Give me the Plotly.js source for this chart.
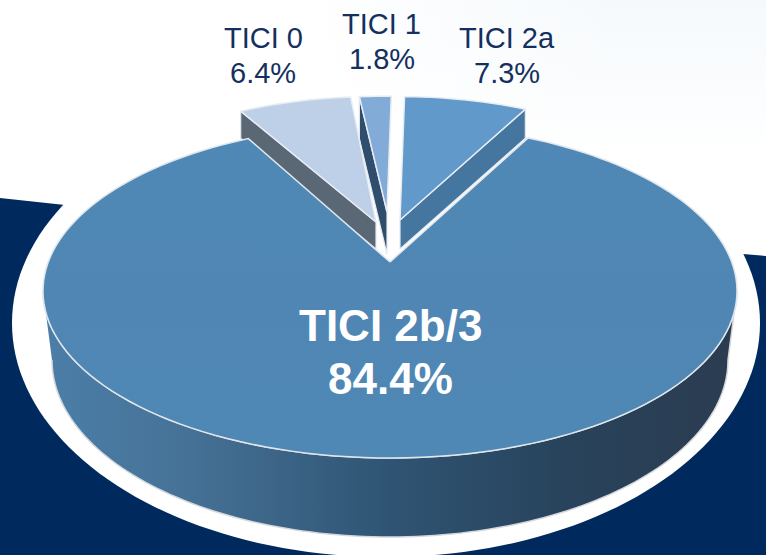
<!DOCTYPE html>
<html>
<head>
<meta charset="utf-8">
<script src="https://cdn.plot.ly/plotly-3.0.1.min.js"></script>
<style>html,body{margin:0;padding:0;background:#fff}#c{width:766px;height:555px}</style>
</head>
<body>
<div id="c"></div>
<script>
// Chart data, clockwise from 12 o'clock
const categories = ["TICI 2a", "TICI 2b/3", "TICI 0", "TICI 1"];
const shares = [7.3, 84.4, 6.4, 1.8];

// Exploded-slice styling, per category
const faceColors = ["#6199cb", "#5088b5", "#bdd0e7", "#82abd8"];
const wallColors = ["#44769f", "#44769f", "#5a6875", "#2f4d6c"];
const apexX = [400, 390, 376, 387];
const apexY = [220, 262, 222, 212];
const sliceScale = [0.895, 1, 0.91, 0.84];
const wallDepth = [29, 0, 27, 42];
const wallEdge = ["end", "none", "start", "start"];
const angleNudge = [-0.5, 0, -2, -1.5];
const anglePad = [0.9, -0.5, 1.5, 1];
const startAngle = 1.5;

// Tilted-disc projection
const A = 341.7, B = 161.9, P = 0.174;
const project = (deg, s) => {
  const t = deg * Math.PI / 180, u = Math.sin(t), v = Math.cos(t), w = 1 + P * v;
  return [s * A * u / w, -s * B * v / w];
};
const ell = (cx, cy, rx, ry, a0, a1, n) => {
  const xs = [], ys = [];
  for (let i = 0; i <= n; i++) {
    const a = (a0 + (a1 - a0) * i / n) * Math.PI / 180;
    xs.push(cx + rx * Math.cos(a)); ys.push(cy + ry * Math.sin(a));
  }
  return [xs, ys];
};

const total = shares.reduce((a, b) => a + b, 0);
let cum = startAngle;
const spans = shares.map((v, i) => {
  const a0 = cum + angleNudge[i], a1 = a0 + v / total * 360 + anglePad[i];
  cum += v / total * 360;
  return [a0, a1];
});

const poly = (x, y, fill, lineColor, lw, extra) => Object.assign({
  type: "scatter", mode: "lines", x, y, fill: "toself", fillcolor: fill,
  line: {color: lineColor, width: lw, simplify: false}, hoverinfo: "skip", showlegend: false
}, extra || {});

const traces = [];

// Backdrop: navy band, white halo, faint tint at the upper right
traces.push(poly([0, 65, 743, 766, 766, 0, 0], [198, 205, 254, 256, 555, 555, 198], "#002a5e", "#002a5e", 0));
{
  const [hx, hy] = ell(386, 323, 374, 234, 0, 360, 180);
  traces.push(poly(hx, hy, "#ffffff", "#ffffff", 0));
}
traces.push(poly([300, 766, 766, 300, 300], [0, 0, 160, 160, 0], "#ffffff", "rgba(0,0,0,0)", 0, {
  fillgradient: {type: "vertical", start: 0, stop: 160, colorscale: [[0, "#f5f9fc"], [1, "#ffffff"]]}
}));
traces.push(poly([300, 620, 620, 300, 300], [0, 0, 160, 160, 0], "#ffffff", "rgba(0,0,0,0)", 0, {
  fillgradient: {type: "horizontal", start: 300, stop: 620, colorscale: [[0, "rgba(255,255,255,1)"], [1, "rgba(255,255,255,0)"]]}
}));

// Side wall of the main slice
{
  const [tx, ty] = ell(390, 291, 347, 167, 180, 0, 120);
  const [bx, by] = ell(390, 360, 338, 177, 0, 180, 120);
  traces.push(poly(tx.concat(bx), ty.concat(by), "#3a5f80", "#d4d8dc", 1.5, {
    fillgradient: {type: "horizontal", start: 45, stop: 735, colorscale: [
      [0, "#4b7ea8"], [0.2, "#467297"], [0.5, "#2f5473"], [0.75, "#28435c"], [1, "#2b3c50"]
    ]}
  }));
}

// Exploded slices, back to front
const wedge = i => {
  const [a0, a1] = spans[i], xs = [apexX[i]], ys = [apexY[i]];
  const n = Math.max(6, Math.round((a1 - a0) / 2));
  for (let k = 0; k <= n; k++) {
    const p = project(a0 + (a1 - a0) * k / n, sliceScale[i]);
    xs.push(apexX[i] + p[0]); ys.push(apexY[i] + p[1]);
  }
  xs.push(apexX[i]); ys.push(apexY[i]);
  return [xs, ys];
};
[3, 2, 0].forEach(i => {
  const deg = wallEdge[i] === "end" ? spans[i][1] : spans[i][0];
  const p = project(deg, sliceScale[i]);
  const cx = apexX[i] + p[0], cy = apexY[i] + p[1], d = wallDepth[i];
  traces.push(poly([cx, apexX[i], apexX[i], cx, cx], [cy, apexY[i], apexY[i] + d, cy + d, cy], wallColors[i], "#e4e9ef", 1.2));
  const [xs, ys] = wedge(i);
  traces.push(poly(xs, ys, faceColors[i], "#e8edf3", 1.5));
});

// Main slice
{
  const [xs, ys] = wedge(1);
  traces.push(poly(xs, ys, faceColors[1], "#dfe6ec", 1.5, {
    fillgradient: {type: "vertical", start: 120, stop: 460, colorscale: [
      [0, "#4f88b6"], [0.5, "#4f86b4"], [1, "#5088b5"]
    ]}
  }));
}

const labelFont = {family: "Liberation Sans, Arial, sans-serif", size: 29, color: "#14305e"};
const bigFont = {family: "Liberation Sans, Arial, sans-serif", size: 44, color: "#ffffff"};
const ann = (text, x, y, font) => ({text, x, y, xref: "x", yref: "y", showarrow: false, font, align: "center", xanchor: "center", yanchor: "middle"});

Plotly.newPlot("c", traces, {
  width: 766, height: 555,
  margin: {l: 0, r: 0, t: 0, b: 0},
  paper_bgcolor: "#ffffff", plot_bgcolor: "#ffffff",
  showlegend: false, hovermode: false,
  xaxis: {range: [0, 766], visible: false, fixedrange: true},
  yaxis: {range: [555, 0], visible: false, fixedrange: true},
  annotations: [
    ann(categories[2], 263, 38, labelFont),
    ann(shares[2] + "%", 263, 73, labelFont),
    ann(categories[3], 381, 24, labelFont),
    ann(shares[3] + "%", 382, 59, labelFont),
    ann(categories[0], 507, 38, labelFont),
    ann(shares[0] + "%", 507, 73, labelFont),
    ann("<b>" + categories[1] + "</b>", 390, 325, bigFont),
    ann("<b>" + shares[1] + "%</b>", 390, 378, bigFont)
  ]
}, {displayModeBar: false, staticPlot: true});
</script>
</body>
</html>
